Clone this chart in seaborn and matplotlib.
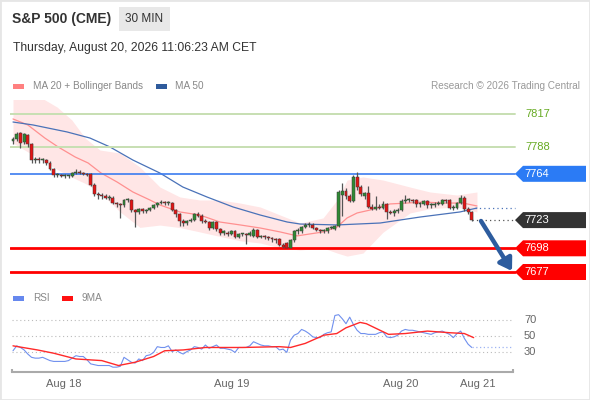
import matplotlib
matplotlib.use("Agg")
import matplotlib.pyplot as plt
import matplotlib.patches as mpatches
import numpy as np
import pandas as pd
import seaborn as sns

# ---- candles (30 min bars, Aug 17 evening -> Aug 20 11:00) ----
opens = [7793, 7795, 7800, 7792, 7798, 7790, 7776, 7777, 7776, 7776,
         7774, 7768, 7763, 7763, 7762, 7762, 7762, 7765, 7766, 7765,
         7764, 7764, 7754, 7746, 7745, 7744, 7743, 7743, 7738, 7737,
         7736, 7741, 7741, 7732, 7730, 7733, 7731, 7732, 7734, 7736,
         7738, 7739, 7738, 7738, 7732, 7728, 7722, 7720, 7722, 7723,
         7728, 7727, 7722, 7721, 7716, 7721, 7715, 7712, 7712, 7711,
         7713, 7708, 7711, 7711, 7710, 7709, 7714, 7708, 7709, 7708,
         7707, 7706, 7706, 7701, 7703, 7698, 7705, 7713, 7713, 7717,
         7719, 7719, 7716, 7714, 7713, 7713, 7716, 7715, 7718, 7745,
         7749, 7744, 7740, 7761, 7752, 7744, 7747, 7735, 7733, 7735,
         7734, 7737, 7730, 7729, 7731, 7732, 7740, 7741, 7741, 7741,
         7737, 7737, 7740, 7736, 7736, 7737, 7737, 7741, 7741, 7734,
         7734, 7738, 7743, 7733, 7730]
highs = [7797, 7801, 7801, 7800, 7799, 7791, 7779, 7779, 7778, 7777,
         7775, 7769, 7765, 7764, 7764, 7763, 7766, 7768, 7767, 7766,
         7765, 7765, 7756, 7748, 7747, 7746, 7745, 7744, 7739, 7738,
         7742, 7743, 7742, 7733, 7734, 7734, 7733, 7735, 7737, 7739,
         7741, 7740, 7740, 7739, 7733, 7729, 7724, 7723, 7725, 7729,
         7730, 7728, 7724, 7722, 7722, 7722, 7716, 7714, 7713, 7714,
         7714, 7712, 7712, 7712, 7713, 7716, 7715, 7710, 7710, 7709,
         7708, 7707, 7707, 7703, 7704, 7706, 7714, 7716, 7718, 7720,
         7721, 7720, 7717, 7715, 7715, 7717, 7718, 7719, 7750, 7756,
         7751, 7746, 7763, 7766, 7754, 7748, 7753, 7737, 7744, 7737,
         7740, 7738, 7732, 7733, 7734, 7742, 7745, 7743, 7742, 7742,
         7739, 7741, 7741, 7738, 7739, 7740, 7742, 7742, 7742, 7736,
         7739, 7745, 7744, 7735, 7731]
lows = [7790, 7793, 7787, 7790, 7788, 7774, 7774, 7774, 7774, 7772,
        7767, 7761, 7761, 7761, 7760, 7760, 7761, 7764, 7764, 7763,
        7762, 7753, 7744, 7742, 7742, 7742, 7741, 7737, 7735, 7725,
        7735, 7739, 7730, 7717, 7728, 7729, 7729, 7731, 7733, 7735,
        7737, 7736, 7736, 7731, 7726, 7718, 7718, 7719, 7721, 7722,
        7726, 7720, 7720, 7714, 7715, 7713, 7710, 7710, 7709, 7710,
        7707, 7707, 7709, 7702, 7709, 7708, 7707, 7707, 7706, 7705,
        7704, 7703, 7700, 7698, 7698, 7698, 7704, 7711, 7712, 7716,
        7717, 7715, 7713, 7712, 7712, 7712, 7715, 7714, 7717, 7727,
        7742, 7739, 7739, 7750, 7744, 7742, 7734, 7732, 7732, 7733,
        7733, 7724, 7728, 7727, 7729, 7731, 7738, 7739, 7738, 7735,
        7735, 7736, 7734, 7734, 7735, 7736, 7736, 7738, 7733, 7732,
        7733, 7737, 7731, 7728, 7722]
closes = [7795, 7799, 7791, 7799, 7790, 7776, 7777, 7776, 7776, 7774,
          7768, 7763, 7763, 7762, 7762, 7762, 7765, 7766, 7765, 7764,
          7763, 7754, 7746, 7745, 7744, 7743, 7743, 7738, 7737, 7736,
          7741, 7741, 7732, 7730, 7733, 7731, 7732, 7734, 7736, 7738,
          7739, 7738, 7738, 7732, 7728, 7722, 7720, 7722, 7723, 7728,
          7727, 7722, 7721, 7716, 7721, 7715, 7712, 7712, 7711, 7713,
          7708, 7711, 7711, 7710, 7712, 7714, 7708, 7709, 7708, 7707,
          7706, 7705, 7701, 7699, 7698, 7705, 7713, 7714, 7717, 7719,
          7719, 7716, 7714, 7713, 7713, 7716, 7717, 7718, 7748, 7749,
          7744, 7740, 7761, 7752, 7746, 7747, 7735, 7733, 7735, 7734,
          7737, 7730, 7729, 7731, 7732, 7740, 7741, 7741, 7740, 7737,
          7738, 7740, 7736, 7736, 7737, 7738, 7741, 7740, 7734, 7735,
          7738, 7743, 7733, 7730, 7723]

# ---- indicators (bar index, value) ----
ma20_bar = [0, 4, 8.6, 12.2, 16.8, 20.3, 23.8, 28.1, 32.4, 37, 39.7, 45.1, 50.5,
            55.9, 61.4, 66.8, 72.2, 76.8, 83.8, 87.6, 90.3, 93, 96.5, 101.9,
            106.5, 110.8, 116.2, 121.6, 125.4]
ma20_val = [7812.6, 7807.3, 7795.7, 7787.8, 7778.9, 7773.6, 7764.7, 7756.8, 7747.9,
            7740.8, 7736.4, 7730.2, 7727.5, 7721.3, 7718.7, 7716.0, 7712.5, 7709.0,
            7712.5, 7716.9, 7724.9, 7729.3, 7731.9, 7737.3, 7738.1, 7739.0, 7738.1,
            7738.1, 7735.5]
upper_bar = [0, 5.9, 11.9, 15.9, 19.5, 23.5, 28.9, 34.3, 39.7, 45.1, 50.5, 55.9, 61.4,
             66.8, 72.2, 77.6, 83.8, 87.6, 90.3, 94.6, 100, 107.3, 112.7, 120, 123.5, 125.4]
upper_val = [7840, 7834.7, 7823.2, 7811.7, 7795.7, 7785.1, 7782.4, 7770.0, 7752.3,
             7743.5, 7740.8, 7740.8, 7738.1, 7734.6, 7727.5, 7720.4, 7724.9, 7740.8,
             7758.5, 7761.2, 7758.5, 7752.3, 7747.9, 7745.2, 7747.0, 7747.9]
lower_bar = [0, 5.4, 10.8, 14.6, 21.6, 26.2, 32.4, 37, 41.6, 47, 52.4, 59.5, 66.8,
             72.2, 77.6, 83.8, 87.6, 91.1, 94.6, 98.4, 101.9, 107.3, 113.5, 120, 125.4]
lower_val = [7791.3, 7780.7, 7770.0, 7763.0, 7752.3, 7740.8, 7716.9, 7716.0, 7720.4,
             7714.2, 7711.6, 7705.4, 7702.7, 7698.3, 7696.5, 7698.3, 7693.8, 7690.3,
             7693.8, 7705.4, 7720.4, 7729.3, 7733.7, 7734.6, 7730.2]
ma50_bar = [0, 5.4, 14.6, 20.8, 26.2, 32.4, 39.7, 45.9, 52.4, 59.5, 66.8, 74.1,
            77.6, 87.6, 99.2, 110, 120.8, 125.4]
ma50_val = [7809.9, 7807.3, 7801.1, 7795.7, 7787.8, 7776.2, 7764.7, 7752.3, 7743.5,
            7734.6, 7727.5, 7721.3, 7719.5, 7718.7, 7720.4, 7725.7, 7730.2, 7733.7]

rsi = [32, 38, 36, 33, 28, 24, 23, 23, 24, 22, 20, 19, 19, 19, 19, 20, 23, 26, 25, 25,
       21, 16, 15, 14, 14, 14, 14, 12, 12, 13, 24, 21, 18, 17, 22, 20, 26, 27, 30, 37,
       36, 36, 38, 31, 33, 30, 28, 31, 33, 37, 36, 34, 39, 35, 37, 39, 35, 35, 34, 33,
       30, 36, 36, 36, 38, 43, 41, 39, 38, 38, 37, 37, 33, 34, 30, 45, 51, 53, 58, 56,
       53, 49, 48, 48, 52, 54, 55, 75, 76, 71, 65, 73, 64, 57, 53, 53, 52, 52, 52, 54,
       55, 49, 48, 49, 51, 56, 58, 57, 57, 56, 55, 54, 53, 52, 54, 55, 56, 54, 52, 48,
       53, 56, 47, 40, 36]
rsi_ma_bar = [0, 6.6, 11, 17, 24, 28.5, 33, 38, 41, 46, 52, 62, 72, 75, 79, 84, 87.5,
              90, 93.8, 95.5, 97.8, 101.5, 106, 112, 118, 122, 124.5]
rsi_ma_val = [38, 33, 29, 22, 20, 14, 18, 25, 32, 33, 36, 36, 37, 36, 41, 51, 53,
              60, 66.6, 65, 60, 52, 53, 56, 54, 53, 48]

levels = [7817, 7788, 7764, 7723, 7698, 7677]
last_price = 7723
last_ma50 = 7733.5
date_labels = ["Aug 18", "Aug 19", "Aug 20", "Aug 21"]
date_bars = [13.8, 59.2, 104.9, 125.7]

W, H = 590, 400
SP = 3.7     # px per bar
X0 = 13      # px of bar 0


def fx(px):
    return px / W


def fy(py):
    return 1 - py / H


def px2bar(px):
    return (px - X0) / SP


def legend_key(x, y, color):
    fig.patches.append(mpatches.Rectangle((fx(x), fy(y + 2.5)), fx(11), 5 / H,
                                          transform=fig.transFigure, facecolor=color,
                                          edgecolor="none"))


sns.set_style("white")
plt.rcParams["font.family"] = ["Liberation Sans", "DejaVu Sans"]

fig = plt.figure(figsize=(W / 100, H / 100), dpi=100)
fig.patch.set_facecolor("white")

# frame + header
fig.patches.append(mpatches.Rectangle((0, 0), 1, 1, transform=fig.transFigure,
                                      fill=False, edgecolor="#e6e6e6", lw=2))
fig.patches.append(mpatches.Rectangle((fx(119), fy(31)), fx(51), 24 / H,
                                      transform=fig.transFigure, facecolor="#e8e8e8",
                                      edgecolor="none"))
fig.text(fx(12), fy(19), "S&P 500 (CME)", fontsize=10, fontweight="bold",
         color="#333333", va="center")
fig.text(fx(144.5), fy(19), "30 MIN", fontsize=8.5, color="#333333",
         va="center", ha="center")
fig.text(fx(13), fy(48), "Thursday, August 20, 2026 11:06:23 AM CET", fontsize=8.7,
         color="#333333", va="center")

# legends
legend_key(13, 86, "#ff8080")
fig.text(fx(33), fy(86), "MA 20 + Bollinger Bands", fontsize=7.2, color="#888888", va="center")
legend_key(156, 86, "#2f5b9c")
fig.text(fx(175), fy(86), "MA 50", fontsize=7.2, color="#888888", va="center")
fig.text(fx(580), fy(86), "Research \u00a9 2026 Trading Central", fontsize=7.2,
         color="#999999", va="center", ha="right")
legend_key(13, 298, "#6688ee")
fig.text(fx(33), fy(298), "RSI", fontsize=7.2, color="#888888", va="center")
legend_key(62, 298, "#ff1010")
fig.text(fx(81), fy(298), "9MA", fontsize=7.2, color="#888888", va="center")

# ---- price panel ----
ax = fig.add_axes([fx(10), fy(285), fx(576), 185 / H])
ppx = 1.1286  # px per point
ax.set_xlim(px2bar(10), px2bar(586))
ax.set_ylim(7817 - (285 - 114) / ppx, 7817 + (114 - 100) / ppx)
ax.axis("off")

ax.fill_between(np.array(upper_bar), upper_val,
                np.interp(upper_bar, lower_bar, lower_val),
                color="#ffe0e0", alpha=0.8, lw=0, zorder=1)
sns.lineplot(x=ma20_bar, y=ma20_val, ax=ax, color="#ff9090", lw=0.9, zorder=2)
sns.lineplot(x=ma50_bar, y=ma50_val, ax=ax, color="#4a72b8", lw=0.9, zorder=2)

bars = pd.DataFrame({"o": opens, "h": highs, "l": lows, "c": closes})
bars["i"] = np.arange(len(bars))
up = bars["c"] >= bars["o"]
ax.vlines(bars["i"], bars["l"], bars["h"], color="#555555", lw=0.9, zorder=3)
body = (bars["c"] - bars["o"]).abs().clip(lower=0.9)
base = bars[["o", "c"]].min(axis=1)
ax.bar(bars["i"], body, bottom=base, width=0.8,
       color=np.where(up, "#2f8a34", "#e31515"), edgecolor="#3a3a3a", lw=0.35, zorder=4)

x_end = px2bar(515)
lv_style = {7817: ("#c7dfb2", 1.4), 7788: ("#c7dfb2", 1.4), 7764: ("#3b7cf0", 1.2),
            7698: ("#ff0000", 2.0), 7677: ("#ff0000", 2.0)}
for lv, (col, lw) in lv_style.items():
    ax.plot([px2bar(10), x_end], [lv, lv], color=col, lw=lw, zorder=2)

ax.plot([len(closes) - 1, x_end], [last_price, last_price], color="#555555",
        lw=0.9, ls=(0, (1, 2.5)), zorder=2)
ax.plot([len(closes), x_end], [last_ma50, last_ma50], color="#4a72b8",
        lw=0.9, ls=(0, (1, 2.5)), zorder=2)

# level labels
box_col = {7764: "#2b7bf5", 7723: "#333333", 7698: "#ff0000", 7677: "#ff0000"}
hh = 8 / ppx
xa, xb, xc = px2bar(515), px2bar(523), px2bar(586)
for lv in levels:
    if lv in box_col:
        poly = [(xa, lv), (xb, lv + hh), (xc, lv + hh), (xc, lv - hh), (xb, lv - hh)]
        ax.add_patch(mpatches.Polygon(poly, closed=True, facecolor=box_col[lv],
                                      edgecolor="none", zorder=5, clip_on=False))
        ax.text(px2bar(524), lv, str(lv), color="white", fontsize=8, va="center",
                zorder=6)
    else:
        ax.text(px2bar(525), lv, str(lv), color="#66aa22", fontsize=8, va="center")

# forecast arrow
ax.annotate("", xy=(px2bar(512), 7817 - (271 - 114) / ppx),
            xytext=(px2bar(481), 7817 - (221 - 114) / ppx),
            arrowprops=dict(arrowstyle="-|>,head_width=0.45,head_length=0.7",
                            color="#2d5c9e", lw=3.2, shrinkA=0, shrinkB=0), zorder=6)

# ---- RSI panel ----
rx = fig.add_axes([fx(10), fy(372), fx(576), 67 / H])
rpx = 0.82
rx.set_xlim(px2bar(10), px2bar(586))
rx.set_ylim(50 - (372 - 336) / rpx, 50 + (336 - 305) / rpx)
for s in ["top", "right", "left"]:
    rx.spines[s].set_visible(False)
rx.spines["bottom"].set_color("#aaaaaa")
rx.spines["bottom"].set_linewidth(1.5)
rx.spines["bottom"].set_bounds(px2bar(12), px2bar(513))
rx.set_yticks([])
rx.set_xticks(date_bars)
rx.set_xticklabels(date_labels, fontsize=8, color="#666666")
rx.tick_params(axis="x", length=0, pad=5)
ybot = rx.get_ylim()[0]
rx.vlines([px2bar(12), px2bar(513)], ybot, ybot + 3 / rpx, color="#aaaaaa", lw=1.5,
          clip_on=False)

for g in [70, 50, 30]:
    rx.plot([px2bar(12), px2bar(512)], [g, g], color="#bbbbbb", lw=0.8, ls=(0, (1, 2.5)))
    rx.text(px2bar(524), g, str(g), fontsize=8, color="#666666", va="center")

sns.lineplot(x=np.arange(len(rsi)), y=rsi, ax=rx, color="#7090ee", lw=0.8)
sns.lineplot(x=rsi_ma_bar, y=rsi_ma_val, ax=rx, color="#ff2a2a", lw=1.0)
rx.plot([len(rsi) - 1, px2bar(513)], [rsi[-1], rsi[-1]], color="#9fb4f3", lw=0.9,
        ls=(0, (1, 2)))

fig.savefig("out.png", dpi=100, facecolor="white")
